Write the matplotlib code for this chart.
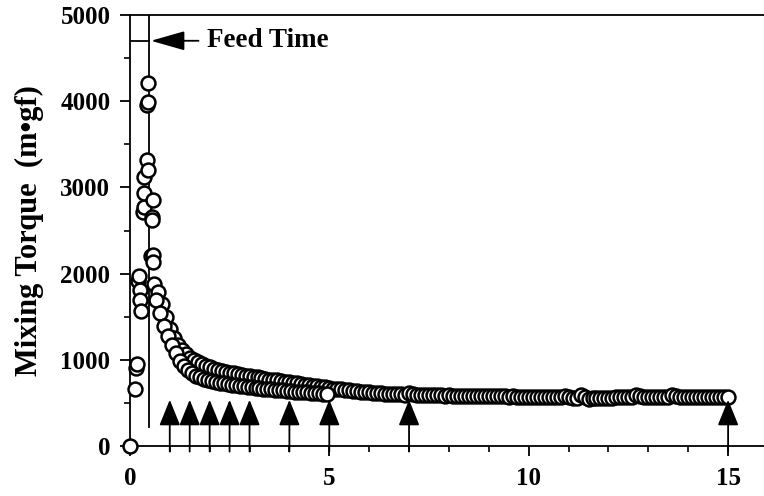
import numpy as np
import matplotlib.pyplot as plt
from matplotlib.ticker import MultipleLocator

plt.rcParams['font.family'] = ['Liberation Serif', 'DejaVu Serif']
plt.rcParams['font.weight'] = 'bold'

# start of mixing, before feed
t_start = [0.0, 0.14, 0.15, 0.17, 0.20, 0.24, 0.25, 0.26, 0.27]
torque_start = [0, 660, 914, 950, 1913, 1971, 1817, 1700, 1566]

# peak around feed time
t_feed = [0.33, 0.35, 0.35, 0.36, 0.43, 0.44, 0.45, 0.45, 0.46, 0.55, 0.55, 0.58, 0.54, 0.58, 0.58]
torque_feed = [2720, 2778, 2940, 3125, 3958, 3322, 3206, 3993, 4216, 2662, 2627, 2859, 2203, 2222, 2141]

# decay, upper chain
t_upper = [0.6, 0.7, 0.8, 0.9, 1.0, 1.1, 1.2, 1.3, 1.4, 1.5, 1.6, 1.7, 1.8, 1.9,
           2.0, 2.1, 2.2, 2.3, 2.4, 2.5, 2.6, 2.7, 2.8, 2.9, 3.0, 3.1, 3.2, 3.3,
           3.4, 3.5, 3.6, 3.7, 3.8, 3.9, 4.0, 4.1, 4.2, 4.3, 4.4, 4.5, 4.6, 4.7,
           4.8, 4.9, 5.0, 5.1, 5.2, 5.3, 5.4, 5.5, 5.6, 5.7, 5.8, 5.9]
torque_upper = [1880, 1790, 1650, 1500, 1360, 1260, 1180, 1120, 1070, 1030, 1000, 975, 950, 930,
                915, 900, 885, 870, 860, 850, 845, 835, 825, 820, 810, 805, 800, 790,
                785, 775, 770, 765, 755, 750, 745, 735, 730, 725, 715, 710, 705, 695,
                690, 685, 675, 670, 665, 660, 655, 650, 645, 640, 635, 630]

# decay, lower chain
t_lower = [0.65, 0.75, 0.85, 0.95, 1.05, 1.15, 1.25, 1.35, 1.45, 1.55, 1.65, 1.75, 1.85, 1.95,
           2.05, 2.15, 2.25, 2.35, 2.45, 2.55, 2.65, 2.75, 2.85, 2.95, 3.05, 3.15, 3.25, 3.35,
           3.45, 3.55, 3.65, 3.75, 3.85, 3.95, 4.05, 4.15, 4.25, 4.35, 4.45, 4.55, 4.65, 4.75,
           4.85, 4.95]
torque_lower = [1700, 1550, 1390, 1280, 1180, 1080, 990, 935, 890, 855, 820, 800, 785, 770,
                760, 745, 740, 730, 720, 715, 710, 700, 695, 690, 685, 680, 675, 670,
                665, 660, 655, 650, 648, 645, 640, 635, 632, 628, 625, 620, 618, 615,
                612, 610]

# steady state
t_flat = [6.0, 6.1, 6.2, 6.3, 6.4, 6.5, 6.6, 6.7, 6.8, 6.9,
          7.0, 7.1, 7.2, 7.3, 7.4, 7.5, 7.6, 7.7, 7.8, 7.9,
          8.0, 8.1, 8.2, 8.3, 8.4, 8.5, 8.6, 8.7, 8.8, 8.9,
          9.0, 9.1, 9.2, 9.3, 9.4, 9.5, 9.6, 9.7, 9.8, 9.9,
          10.0, 10.1, 10.2, 10.3, 10.4, 10.5, 10.6, 10.7, 10.8, 10.9,
          11.0, 11.1, 11.2, 11.3, 11.4, 11.5, 11.6, 11.7, 11.8, 11.9,
          12.0, 12.1, 12.2, 12.3, 12.4, 12.5, 12.6, 12.7, 12.8, 12.9,
          13.0, 13.1, 13.2, 13.3, 13.4, 13.5, 13.6, 13.7, 13.8, 13.9,
          14.0, 14.1, 14.2, 14.3, 14.4, 14.5, 14.6, 14.7, 14.8, 14.9, 15.0]
torque_flat = [625, 620, 618, 615, 612, 610, 608, 605, 603, 600,
               615, 605, 598, 596, 594, 592, 600, 596, 590, 588,
               590, 588, 586, 588, 585, 584, 586, 583, 582, 584,
               582, 580, 582, 579, 580, 578, 580, 577, 578, 576,
               577, 575, 576, 574, 575, 572, 574, 570, 572, 585,
               570, 560, 565, 590, 572, 555, 560, 565, 562, 558,
               560, 562, 570, 575, 572, 574, 576, 600, 580, 576,
               575, 578, 574, 576, 578, 575, 595, 585, 578, 576,
               575, 578, 576, 574, 576, 575, 573, 575, 572, 574, 570]

feed_time = 0.48
arrow_times = [1, 1.5, 2, 2.5, 3, 4, 5, 7, 15]

fig = plt.figure(figsize=(7.64, 4.96), dpi=100)
ax = fig.add_axes([0.170, 0.100, 0.830, 0.870])

mk = dict(marker='o', linestyle='none', markersize=10, markerfacecolor='white',
          markeredgecolor='black', markeredgewidth=1.8, clip_on=False, zorder=3)
for t, q in [(t_upper, torque_upper), (t_lower, torque_lower), (t_flat, torque_flat),
             (t_start, torque_start), (t_feed, torque_feed)]:
    ax.plot(t, q, **mk)

# feed time marker
ax.plot([feed_time, feed_time], [220, 5000], color='black', lw=1.3, zorder=2)
ax.plot([0, feed_time], [4700, 4700], color='black', lw=1.3)
ax.annotate('', xy=(0.53, 4700), xytext=(1.72, 4700),
            arrowprops=dict(arrowstyle='-|>,head_length=2.1,head_width=0.6',
                            color='black', lw=1.3, mutation_scale=10,
                            shrinkA=0, shrinkB=0))
ax.text(1.93, 4700, 'Feed Time', fontsize=19.5, fontweight='bold', va='center', ha='left')

# sampling arrows
for t in arrow_times:
    ax.annotate('', xy=(t, 540), xytext=(t, -60),
                arrowprops=dict(arrowstyle='-|>,head_length=1.6,head_width=0.65',
                                color='black', lw=1.3, mutation_scale=10,
                                shrinkA=0, shrinkB=0),
                annotation_clip=False, zorder=4)

ax.set_xlim(0, 15.9)
ax.set_ylim(0, 5000)
ax.xaxis.set_major_locator(MultipleLocator(5))
ax.xaxis.set_minor_locator(MultipleLocator(1))
ax.yaxis.set_major_locator(MultipleLocator(1000))
ax.yaxis.set_minor_locator(MultipleLocator(500))
ax.tick_params(which='major', direction='out', length=7, width=1.3, labelsize=18, pad=7)
ax.tick_params(which='minor', direction='out', length=4, width=1.2)
ax.tick_params(axis='x', pad=8)
for lab in ax.get_xticklabels() + ax.get_yticklabels():
    lab.set_fontweight('bold')

ax.spines['right'].set_visible(False)
for s in ['left', 'bottom', 'top']:
    ax.spines[s].set_linewidth(1.3)

ax.set_ylabel('Mixing Torque  (m\u2022gf)', fontsize=22, fontweight='bold', labelpad=12)

fig.savefig('out.png', dpi=100)
